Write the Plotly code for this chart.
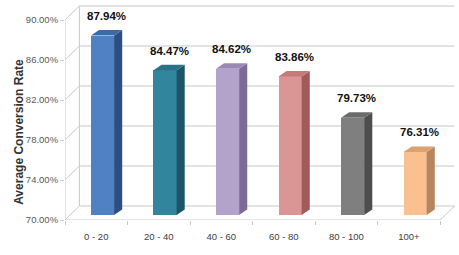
import plotly.graph_objects as go

categories = ["0 - 20", "20 - 40", "40 - 60", "60 - 80", "80 - 100", "100+"]
values = [87.94, 84.47, 84.62, 83.86, 79.73, 76.31]
front_colors = ["#4F81C4", "#31859C", "#B3A2C9", "#D99694", "#7F7F7F", "#FAC08F"]
side_colors = ["#2D4F80", "#1E5566", "#7E6A99", "#A05C5A", "#4D4D4D", "#B8865E"]
top_colors = ["#3C6AA8", "#2A7387", "#9B89B3", "#C47B79", "#6B6B6B", "#DCA071"]
y_ticks = [70, 74, 78, 82, 86, 90]
y_title = "Average Conversion Rate"

# 3D look geometry (data units)
WALL_DX, WALL_DY = 0.23, 1.4
BAR_OFF_X, BAR_OFF_Y = 0.10, 0.5
BAR_W = 0.37
BAR_DX, BAR_DY = 0.13, 0.55

n = len(categories)
y_min, y_max = y_ticks[0], y_ticks[-1]
x_left = -0.5
x_right = n - 0.5
grid_color = "#C8C8C8"

fig = go.Figure()

def line(xs, ys, color=grid_color):
    path = "M " + " L ".join(f"{x},{y}" for x, y in zip(xs, ys))
    fig.add_shape(type="path", path=path, xref="x", yref="y", layer="below",
                  line=dict(color=color, width=1))

# back wall gridlines with diagonal side-wall segments
for t in y_ticks:
    line([x_left, x_left + WALL_DX, x_right + WALL_DX], [t, t + WALL_DY, t + WALL_DY])
# left wall verticals
line([x_left, x_left], [y_min, y_max])
line([x_left + WALL_DX, x_left + WALL_DX], [y_min + WALL_DY, y_max + WALL_DY])
# floor
line([x_left, x_right, x_right + WALL_DX], [y_min, y_min, y_min + WALL_DY])

# bars
xc = [i + BAR_OFF_X for i in range(n)]
fig.add_trace(go.Bar(
    x=xc, y=[v - y_min for v in values], base=y_min + BAR_OFF_Y, width=BAR_W,
    marker=dict(color=front_colors, line=dict(width=0)), showlegend=False, hoverinfo="skip"))

for i, v in enumerate(values):
    x0 = xc[i] - BAR_W / 2
    x1 = xc[i] + BAR_W / 2
    yb = y_min + BAR_OFF_Y
    yt = v + BAR_OFF_Y
    fig.add_trace(go.Scatter(
        x=[x1, x1 + BAR_DX, x1 + BAR_DX, x1, x1],
        y=[yb, yb + BAR_DY, yt + BAR_DY, yt, yb],
        fill="toself", fillcolor=side_colors[i], mode="lines", line=dict(width=0, color=side_colors[i]),
        hoverinfo="skip", showlegend=False))
    fig.add_trace(go.Scatter(
        x=[x0, x1, x1 + BAR_DX, x0 + BAR_DX, x0],
        y=[yt, yt, yt + BAR_DY, yt + BAR_DY, yt],
        fill="toself", fillcolor=top_colors[i], mode="lines", line=dict(width=0, color=top_colors[i]),
        hoverinfo="skip", showlegend=False))
    fig.add_annotation(x=xc[i] + BAR_DX / 2, y=yt + BAR_DY, text=f"<b>{v:.2f}%</b>",
                       showarrow=False, yanchor="bottom", yshift=6,
                       font=dict(family="Liberation Sans, Arial", size=11.5, color="#111111"))

fig.add_annotation(xref="paper", yref="paper", x=0, y=0.41, xshift=-55, text=f"<b>{y_title}</b>",
                   textangle=-90, showarrow=False,
                   font=dict(family="Liberation Sans, Arial", size=12, color="#333333"))

fig.update_layout(
    width=459, height=255,
    margin=dict(l=65, r=2, t=5, b=35),
    plot_bgcolor="white", paper_bgcolor="white",
    xaxis=dict(range=[x_left, 5.77], tickmode="array", tickvals=list(range(n)), ticktext=categories,
               showgrid=False, zeroline=False, showline=False, ticks="",
               ticklabelstandoff=9,
               minor=dict(tickmode="array", tickvals=[x_left + k for k in range(n + 1)],
                          ticks="outside", ticklen=4, tickcolor=grid_color, showgrid=False),
               tickfont=dict(family="Liberation Sans, Arial", size=9.5, color="#404040")),
    yaxis=dict(range=[y_min, 91.5], tickmode="array", tickvals=y_ticks,
               ticktext=[f"{t:.2f}%" for t in y_ticks],
               showgrid=False, zeroline=False, showline=False,
               ticks="outside", ticklen=4, tickcolor=grid_color,
               tickfont=dict(family="Liberation Sans, Arial", size=9.5, color="#595959")),
    bargap=0,
)

fig.write_html("out.html")
